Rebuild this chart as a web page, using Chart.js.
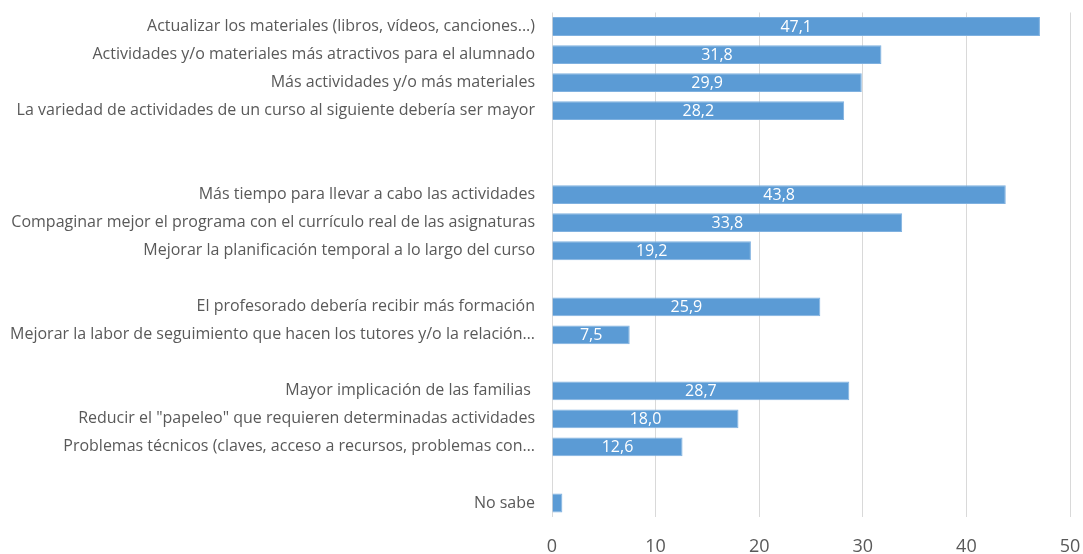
<!DOCTYPE html>
<html>
<head>
<meta charset="utf-8">
<script src="https://cdn.jsdelivr.net/npm/chart.js@4"></script>
<style>
  html, body { margin: 0; padding: 0; background: #fff; }
  #wrap { position: relative; width: 1083px; height: 554px; }
</style>
</head>
<body>
<div id="wrap"><canvas id="chart"></canvas></div>
<script>
// categorías (las vacías son los huecos entre grupos)
const categories = [
  'Actualizar los materiales (libros, vídeos, canciones...)',
  'Actividades y/o materiales más atractivos para el alumnado',
  'Más actividades y/o más materiales',
  'La variedad de actividades de un curso al siguiente debería ser mayor',
  '',
  '',
  'Más tiempo para llevar a cabo las actividades',
  'Compaginar mejor el programa con el currículo real de las asignaturas',
  'Mejorar la planificación temporal a lo largo del curso',
  '',
  'El profesorado debería recibir más formación',
  'Mejorar la labor de seguimiento que hacen los tutores y/o la relación…',
  '',
  'Mayor implicación de las familias ',
  'Reducir el "papeleo" que requieren determinadas actividades',
  'Problemas técnicos (claves, acceso a recursos, problemas con…',
  '',
  'No sabe'
];
const values = [47.1, 31.8, 29.9, 28.2, null, null, 43.8, 33.8, 19.2, null, 25.9, 7.5, null, 28.7, 18.0, 12.6, null, 1.0];
const xTicks = [0, 10, 20, 30, 40, 50];

const txtGrey = '#595959';
const fontFam = '"Open Sans", sans-serif';

// etiquetas de valor en blanco, centradas en la barra
const barLabels = {
  id: 'barLabels',
  afterDatasetsDraw(chart) {
    const ctx = chart.ctx;
    const meta = chart.getDatasetMeta(0);
    ctx.save();
    ctx.fillStyle = '#ffffff';
    ctx.font = '16px ' + fontFam;
    ctx.textAlign = 'center';
    ctx.textBaseline = 'middle';
    meta.data.forEach((bar, i) => {
      const v = values[i];
      if (v == null || v < 2) return;
      const cx = (bar.x + bar.base) / 2;
      ctx.fillText(v.toFixed(1).replace('.', ','), cx, bar.y + 1);
    });
    ctx.restore();
  }
};

new Chart(document.getElementById('chart'), {
  type: 'bar',
  data: {
    labels: categories,
    datasets: [{
      data: values,
      backgroundColor: '#5B9BD5',
      borderColor: '#7FB1E0',
      borderWidth: 1,
      categoryPercentage: 1,
      barPercentage: 0.67
    }]
  },
  options: {
    indexAxis: 'y',
    responsive: true,
    maintainAspectRatio: false,
    animation: false,
    layout: { padding: { top: 12.5, right: 13, left: 0, bottom: 0 } },
    plugins: { legend: { display: false }, tooltip: { enabled: false } },
    scales: {
      x: {
        min: 0, max: 50,
        afterBuildTicks: s => { s.ticks = xTicks.map(v => ({ value: v })); },
        afterFit: s => { s.height = 37; s.paddingLeft = 0; s.paddingRight = 0; },
        grid: { color: '#d9d9d9', drawTicks: false },
        border: { display: false },
        ticks: { color: txtGrey, font: { family: fontFam, size: 18 }, padding: 19 }
      },
      y: {
        afterFit: s => { s.width = 552; s.paddingTop = 0; s.paddingBottom = 0; },
        grid: { display: false },
        border: { display: false },
        ticks: { color: txtGrey, font: { family: fontFam, size: 16 }, padding: 9, autoSkip: false }
      }
    }
  },
  plugins: [barLabels]
});
</script>
</body>
</html>
